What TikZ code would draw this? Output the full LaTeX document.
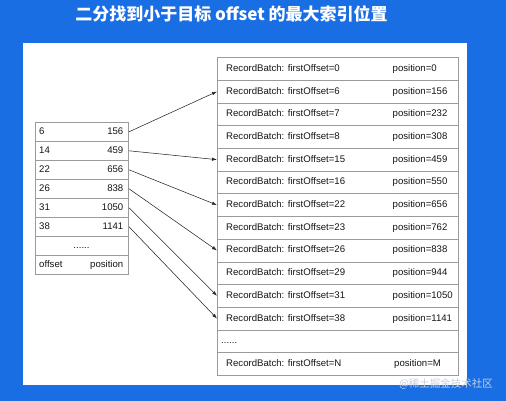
\documentclass[tikz,border=0pt]{standalone}
\usepackage{fontspec}
\setmainfont{Liberation Sans}
\newfontfamily\cjk{Noto Sans CJK SC}
\usetikzlibrary{arrows.meta}
\definecolor{bgblue}{RGB}{26,110,228}
\definecolor{tline}{RGB}{155,155,155}
\definecolor{arrcol}{RGB}{40,40,40}
\definecolor{wmcol}{RGB}{200,208,222}
\tikzset{
  rrow/.style={draw=tline, line width=0.6pt, minimum width=241pt, minimum height=22.7pt, inner sep=0pt, outer sep=0pt},
  lrow/.style={draw=tline, line width=0.6pt, minimum width=93pt, minimum height=19pt, inner sep=0pt, outer sep=0pt},
  lbl/.style={font=\fontsize{9.6}{11}\selectfont, inner sep=0pt, text height=7pt, text depth=2pt, text=black!92},
  arr/.style={draw=arrcol, line width=0.55pt, -{Latex[length=5pt,width=3.4pt]}},
  titlestyle/.style={font=\cjk\bfseries\fontsize{17}{20}\selectfont, text=white, inner sep=0pt},
  wm/.style={font=\cjk\fontsize{10.5}{12}\selectfont, text=wmcol, inner sep=0pt}
}
\begin{document}
\begin{tikzpicture}[x=1pt,y=-1pt]
\path[fill=bgblue] (0,0) rectangle (506,401);
\fill[white] (23,43) rectangle (467,385);
\node[titlestyle] (title) at (231.5,13.5) {二分找到小于目标 offset 的最大索引位置};
% right table
\foreach \i/\o/\p in {1/0/0,2/6/156,3/7/232,4/8/308,5/15/459,6/16/550,7/22/656,8/23/762,9/26/838,10/29/944,11/31/1050,12/38/1141}{
  \node[rrow] (r\i) at (337.5,{57.5+22.7*(\i-0.5)}) {};
  \node[lbl, anchor=west] (ra\i) at ([xshift=9pt]r\i.west) {RecordBatch: firstOffset=\o};
  \node[lbl, anchor=west] (rb\i) at ([xshift=175.5pt]r\i.west) {position=\p};
}
\node[rrow] (r13) at (337.5,{57.5+22.7*12.5}) {};
\node[lbl, anchor=west] (ra13) at ([xshift=4pt]r13.west) {......};
\node[rrow] (r14) at (337.5,{57.5+22.7*13.5}) {};
\node[lbl, anchor=west] (ra14) at ([xshift=9pt]r14.west) {RecordBatch: firstOffset=N};
\node[lbl, anchor=west] (rb14) at ([xshift=177pt]r14.west) {position=M};
% left table
\foreach \i/\a/\b in {1/6/156,2/14/459,3/22/656,4/26/838,5/31/1050,6/38/1141,8/offset/position}{
  \node[lrow] (l\i) at (81.5,{122.3+19*(\i-0.5)}) {};
  \node[lbl, anchor=west] (la\i) at ([xshift=4pt]l\i.west) {\a};
  \node[lbl, anchor=east] (lb\i) at ([xshift=-4.5pt]l\i.east) {\b};
}
\node[lrow] (l7) at (81.5,{122.3+19*6.5}) {};
\node[lbl] (la7) at (l7.center) {......};
% arrows
\draw[arr] ([xshift=1pt]l1.east) -- (r2.west);
\draw[arr] ([xshift=1pt]l2.east) -- (r5.west);
\draw[arr] ([xshift=1pt]l3.east) -- (r7.west);
\draw[arr] ([xshift=1pt]l4.east) -- (r9.west);
\draw[arr] ([xshift=1pt]l5.east) -- (r11.west);
\draw[arr] ([xshift=1pt]l6.east) -- (r12.west);
\node[wm] (wmark) at (446,383.5) {@稀土掘金技术社区};
\end{tikzpicture}
\end{document}
